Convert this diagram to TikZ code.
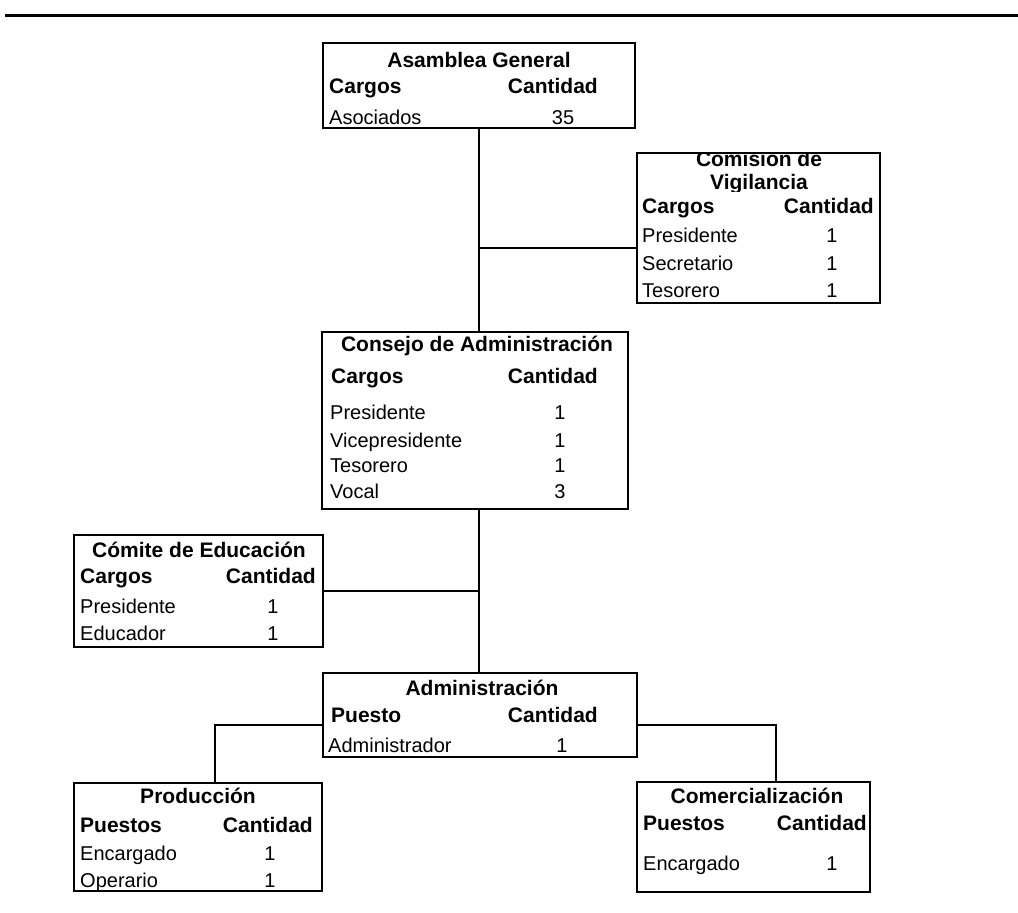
\documentclass[tikz,border=0pt]{standalone}
\usepackage{fontspec}
\setmainfont{Liberation Sans}
\begin{document}
\begin{tikzpicture}[x=1pt,y=-1pt,
  box/.style={draw, line width=1.6pt, inner sep=0pt, outer sep=0pt, anchor=north west},
  conn/.style={line width=1.6pt},
  hd/.style={font=\fontsize{21}{24}\selectfont\bfseries, inner sep=0pt, anchor=base},
  hl/.style={hd, anchor=base west},
  hr/.style={hd, anchor=base east},
  tl/.style={font=\fontsize{20}{23}\selectfont, inner sep=0pt, anchor=base west},
  num/.style={font=\fontsize{20}{23}\selectfont, inner sep=0pt, anchor=base}]
\useasboundingbox (0,0) rectangle (1018,913);
\draw[line width=3pt] (5,15) -- (1018,15);

% boxes
\node[box, minimum width=312pt, minimum height=85pt] (asm) at (323,43) {};
\node[box, minimum width=243pt, minimum height=150pt] (com) at (637,153) {};
\node[box, minimum width=306pt, minimum height=177pt] (cons) at (322,332) {};
\node[box, minimum width=249pt, minimum height=112pt] (edu) at (74,535) {};
\node[box, minimum width=314pt, minimum height=84pt] (adm) at (323,673) {};
\node[box, minimum width=248pt, minimum height=108pt] (prod) at (74,783) {};
\node[box, minimum width=233pt, minimum height=110pt] (comer) at (637,782) {};

% connectors
\path (com.north west) ++(0,95) coordinate (comin);
\path (adm.south west) ++(0,-32) coordinate (admL);
\path (adm.south east) ++(0,-32) coordinate (admR);
\path (prod.north west) ++(141,0) coordinate (prodin);
\path (comer.north west) ++(139,0) coordinate (comerin);
\draw[conn] (asm.south) -- (asm.south |- cons.north);
\draw[conn] (asm.south |- comin) -- (comin);
\draw[conn] (asm.south |- cons.south) -- (asm.south |- adm.north);
\draw[conn] (edu.east) -- (edu.east -| asm.south);
\draw[conn] (admL) -| (prodin);
\draw[conn] (admR) -| (comerin);

% Asamblea General
\node[hd] (asmT) at (479,67) {Asamblea General};
\node[hl] (asmC) at (329,93) {Cargos};
\node[hr] (asmQ) at (598,93) {Cantidad};
\node[tl] (asmR1) at (329,124) {Asociados};
\node[num] (asmN1) at (563,124) {35};

% Comision de Vigilancia
\begin{scope}
\clip (637,154) rectangle (880,191);
\node[hd] (comT1) at (759,166) {Comisión de};
\node[hd] (comT2) at (759,189) {Vigilancia};
\end{scope}
\node[hl] (comC) at (642,213) {Cargos};
\node[hr] (comQ) at (874,213) {Cantidad};
\node[tl] (comR1) at (642,242) {Presidente};
\node[num] (comN1) at (832,242) {1};
\node[tl] (comR2) at (642,270) {Secretario};
\node[num] (comN2) at (832,270) {1};
\node[tl] (comR3) at (642,297) {Tesorero};
\node[num] (comN3) at (832,297) {1};

% Consejo de Administracion
\node[hd] (consT) at (477,351) {Consejo de Administración};
\node[hl] (consC) at (331,383) {Cargos};
\node[hr] (consQ) at (598,383) {Cantidad};
\node[tl] (consR1) at (330,419) {Presidente};
\node[num] (consN1) at (560,419) {1};
\node[tl] (consR2) at (330,447) {Vicepresidente};
\node[num] (consN2) at (560,447) {1};
\node[tl] (consR3) at (330,472) {Tesorero};
\node[num] (consN3) at (560,472) {1};
\node[tl] (consR4) at (330,498) {Vocal};
\node[num] (consN4) at (560,498) {3};

% Comite de Educacion
\node[hd] (eduT) at (199,557) {Cómite de Educación};
\node[hl] (eduC) at (80,583) {Cargos};
\node[hr] (eduQ) at (316,583) {Cantidad};
\node[tl] (eduR1) at (80,613) {Presidente};
\node[num] (eduN1) at (273,613) {1};
\node[tl] (eduR2) at (80,640) {Educador};
\node[num] (eduN2) at (273,640) {1};

% Administracion
\node[hd] (admT) at (482,695) {Administración};
\node[hl] (admC) at (331,722) {Puesto};
\node[hr] (admQ) at (598,722) {Cantidad};
\node[tl] (admR1) at (328,752) {Administrador};
\node[num] (admN1) at (562,752) {1};

% Produccion
\node[hd] (prodT) at (198,803) {Producción};
\node[hl] (prodC) at (80,832) {Puestos};
\node[hr] (prodQ) at (313,832) {Cantidad};
\node[tl] (prodR1) at (80,860) {Encargado};
\node[num] (prodN1) at (270,860) {1};
\node[tl] (prodR2) at (80,887) {Operario};
\node[num] (prodN2) at (270,887) {1};

% Comercializacion
\node[hd] (comerT) at (757,803) {Comercialización};
\node[hl] (comerC) at (643,830) {Puestos};
\node[hr] (comerQ) at (867,830) {Cantidad};
\node[tl] (comerR1) at (643,870) {Encargado};
\node[num] (comerN1) at (832,870) {1};
\end{tikzpicture}
\end{document}
